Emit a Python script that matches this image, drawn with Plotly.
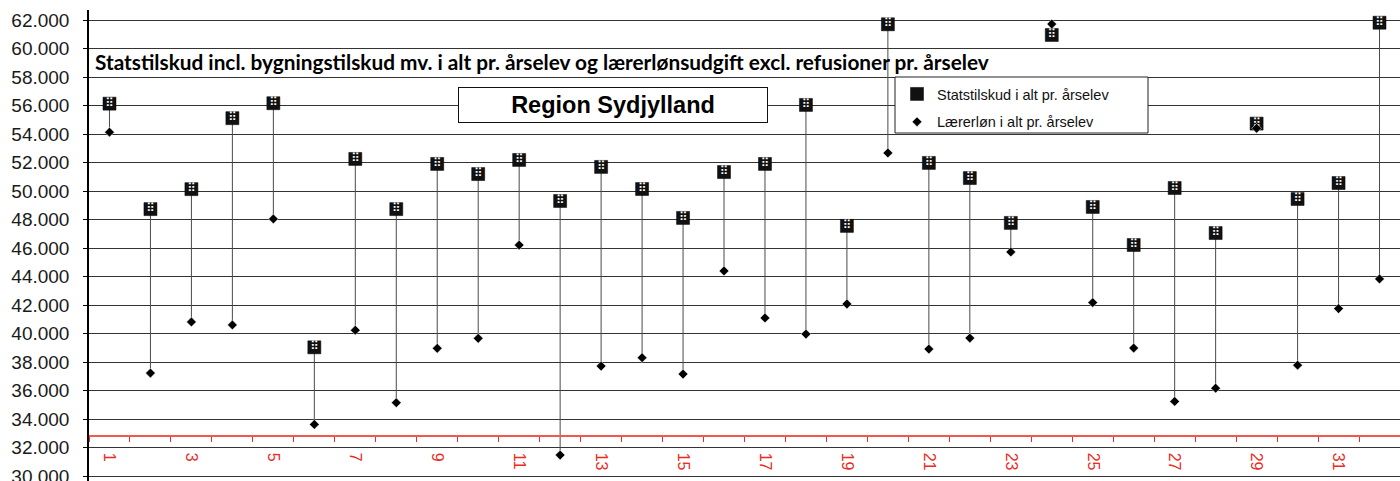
import plotly.graph_objects as go

# ---- data ----
categories = list(range(1, 33))
tick_labels = [str(i) for i in range(1, 33, 2)]
tick_positions = list(range(1, 33, 2))

statstilskud = [56150, 48750, 50150, 55130, 56180, 39050, 52270, 48750, 51920, 51210,
                52200, 49320, 51710, 50160, 48130, 51350, 51920, 56060, 47570, 61720,
                51990, 50930, 47780, 60970, 48900, 46230, 50230, 47070, 54750, 49460,
                50580, 61830]
laererloen = [54150, 37240, 40830, 40620, 48060, 33640, 40250, 35160, 38980, 39680,
              46230, 31490, 37730, 38320, 37170, 44410, 41110, 39980, 42090, 52690,
              38930, 39700, 45740, 61740, 42190, 39000, 35250, 36180, 54420, 37800,
              41770, 43850]

name_stat = "Statstilskud i alt pr. årselev"
name_laer = "Lærerløn i alt pr. årselev"
title_text = "Statstilskud incl. bygningstilskud mv. i alt pr. årselev og lærerlønsudgift excl. refusioner pr. årselev"
region_text = "Region Sydjylland"

Y_MIN, Y_MAX = 29668, 62723
AXIS_VALUE = 32793
RED = "#ec2a1e"
RED_LINE = "#f05a4c"

# connector lines built from the data
lx, ly = [], []
for c, s, l in zip(categories, statstilskud, laererloen):
    lx += [c, c, None]
    ly += [s, l, None]

fig = go.Figure()
fig.add_trace(go.Scatter(x=lx, y=ly, mode="lines", line=dict(color="#4a4a4a", width=1),
                         showlegend=False, hoverinfo="skip"))
fig.add_trace(go.Scatter(x=categories, y=statstilskud, mode="markers", name=name_stat,
                         marker=dict(symbol="square", size=13, color="#111111",
                                     line=dict(color="#000000", width=0.5)),
                         legendgroup="a", legendrank=1))
fig.add_trace(go.Scatter(x=categories, y=statstilskud, mode="text", text=["⠿"] * len(categories),
                         textfont=dict(family="DejaVu Sans", size=12, color="white"),
                         textposition="middle center", showlegend=False, hoverinfo="skip"))
fig.add_trace(go.Scatter(x=categories, y=laererloen, mode="markers", name=name_laer,
                         marker=dict(symbol="diamond", size=7.5, color="#000000",
                                     line=dict(color="white", width=0.5)),
                         legendgroup="b", legendrank=2))

pos = (AXIS_VALUE - Y_MIN) / (Y_MAX - Y_MIN)

def px_x(p):
    return (p - 89) / 1311

def px_y(p):
    return 1 - (p - 10) / 471

fig.update_layout(
    width=1400, height=481,
    margin=dict(l=89, r=0, t=10, b=0, autoexpand=False),
    paper_bgcolor="white", plot_bgcolor="white",
    separators=",.",
    showlegend=True,
    legend=dict(x=px_x(897), y=px_y(78), xanchor="left", yanchor="top",
                bgcolor="rgba(0,0,0,0)", borderwidth=0,
                font=dict(family="Liberation Sans, Arial", size=14.5, color="#111111"),
                traceorder="grouped", tracegroupgap=6, itemsizing="trace"),
    shapes=[dict(type="rect", xref="paper", yref="paper", layer="above",
                 x0=px_x(895), x1=px_x(1148), y0=px_y(133), y1=px_y(77),
                 fillcolor="white", line=dict(color="#222222", width=1))],
    xaxis=dict(range=[0.5, 32.5], anchor="free", position=pos, automargin=False,
               showline=True, linecolor=RED_LINE, linewidth=2,
               tickmode="array", tickvals=tick_positions, ticktext=tick_labels,
               ticks="", tickangle=90, ticklabelstandoff=12,
               tickfont=dict(family="Liberation Sans, Arial", size=16, color=RED),
               showgrid=False, zeroline=False,
               minor=dict(tickmode="linear", tick0=0.5, dtick=1, ticks="outside",
                          ticklen=5, tickwidth=1, tickcolor=RED, showgrid=False)),
    xaxis2=dict(range=[0.5, 32.5], overlaying="x", anchor="free", position=pos, automargin=False,
                showline=False, showticklabels=False, showgrid=False, zeroline=False,
                tickmode="array", tickvals=tick_positions, ticks="",
                minor=dict(tickmode="linear", tick0=0.5, dtick=1, ticks="inside",
                           ticklen=5, tickwidth=1, tickcolor=RED, showgrid=False)),
    yaxis=dict(range=[Y_MIN, Y_MAX], tick0=0, dtick=2000, tickformat=",.0f",
               automargin=False,
               showgrid=True, gridcolor="#333333", gridwidth=1,
               showline=True, linecolor="#000000", linewidth=1.5,
               ticks="outside", ticklen=4, tickcolor="#000000",
               ticklabelstandoff=10, zeroline=False, ticklabeloverflow="allow",
               tickfont=dict(family="Liberation Sans, Arial", size=19, color="#1a1a1a")),
    annotations=[
        dict(text=title_text, xref="paper", yref="paper", x=0.003, y=px_y(62),
             xanchor="left", yanchor="middle", showarrow=False,
             font=dict(family="Lato", size=20.8, color="#000000", weight="bold")),
        dict(text="<b>" + region_text + "</b>", xref="paper", yref="paper",
             x=px_x(613), y=px_y(105), xanchor="center", yanchor="middle",
             showarrow=False, bgcolor="white", bordercolor="#111111", borderwidth=1,
             width=306, height=32,
             font=dict(family="Liberation Sans, Arial", size=23.5, color="#000000")),
    ],
)

fig.write_html("out.html",
               config={"displayModeBar": False},
               post_script="document.body.style.margin='0';document.body.style.padding='0';"
                           "document.body.style.overflow='hidden';")
